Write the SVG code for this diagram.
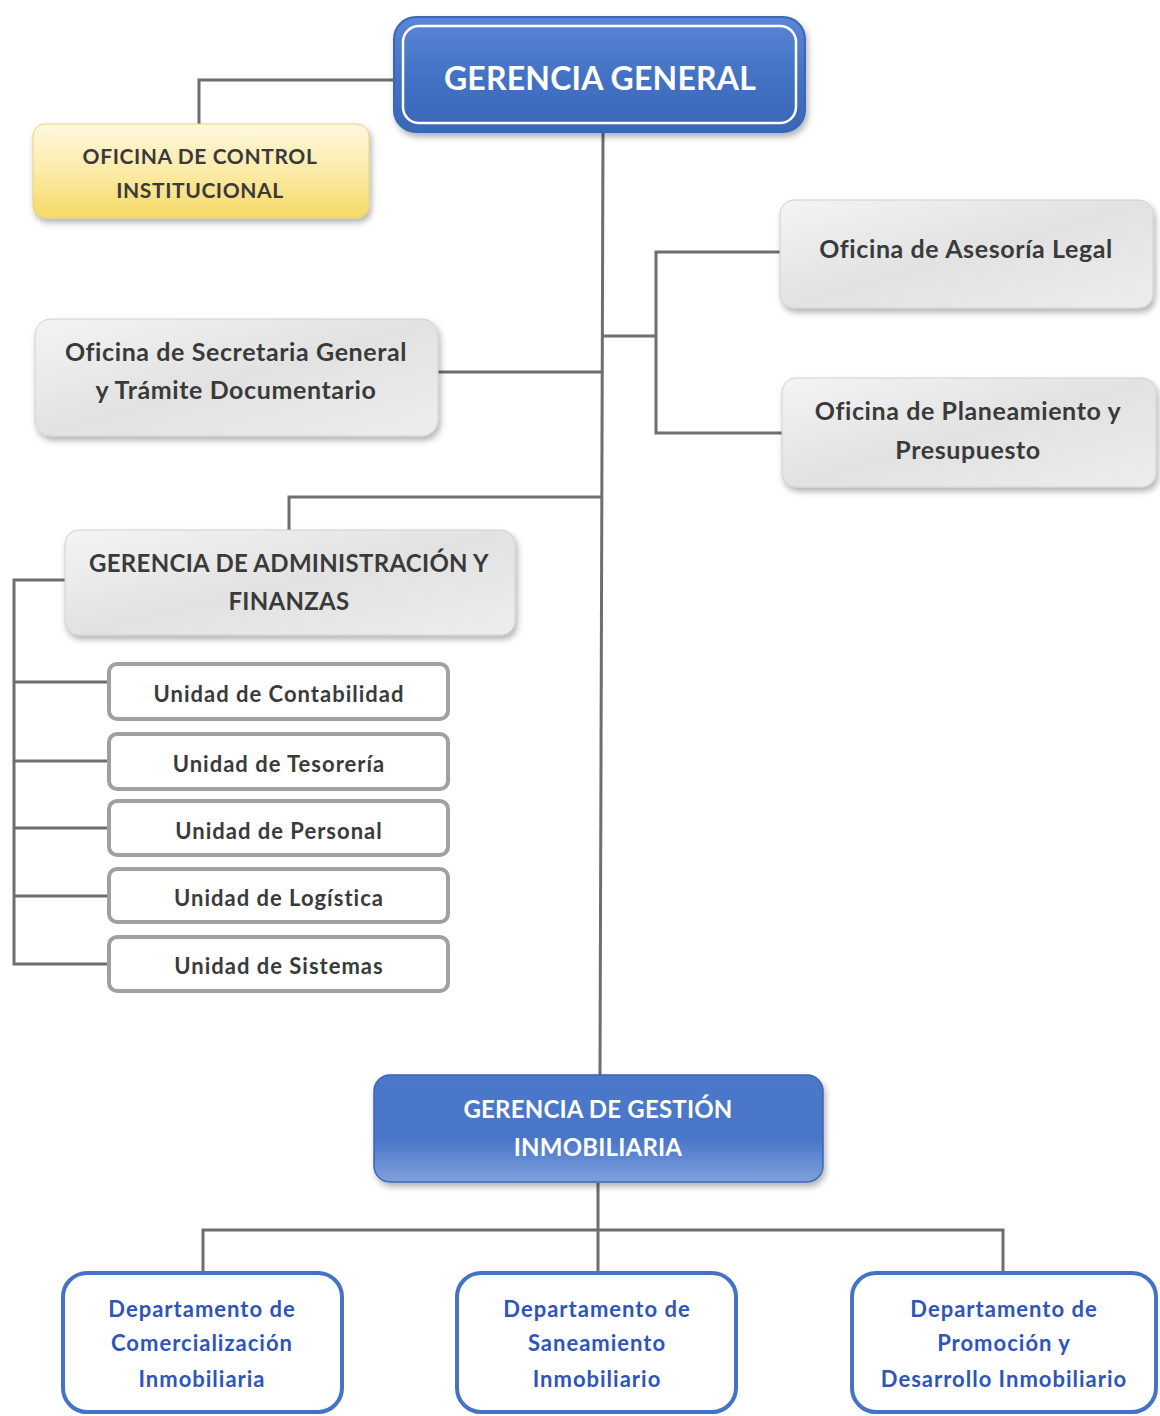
<svg xmlns="http://www.w3.org/2000/svg" width="1160" height="1416" viewBox="0 0 1160 1416">
<defs>
  <linearGradient id="gBlue" x1="0" y1="0" x2="0" y2="1">
    <stop offset="0" stop-color="#5B86D6"/>
    <stop offset="0.5" stop-color="#4472C4"/>
    <stop offset="1" stop-color="#3A66B8"/>
  </linearGradient>
  <linearGradient id="gGGI" x1="0" y1="0" x2="0" y2="1">
    <stop offset="0" stop-color="#4C78CA"/>
    <stop offset="0.6" stop-color="#4A76C8"/>
    <stop offset="1" stop-color="#7FA0DC"/>
  </linearGradient>
  <linearGradient id="gYellow" x1="0" y1="0" x2="0" y2="1">
    <stop offset="0" stop-color="#FFF8DE"/>
    <stop offset="0.5" stop-color="#FCEBA8"/>
    <stop offset="1" stop-color="#F6D966"/>
  </linearGradient>
  <linearGradient id="gGray" x1="0" y1="0" x2="1" y2="1">
    <stop offset="0" stop-color="#F4F4F4"/>
    <stop offset="0.5" stop-color="#E2E2E2"/>
    <stop offset="1" stop-color="#EDEDED"/>
  </linearGradient>
  <filter id="sh" x="-10%" y="-10%" width="125%" height="135%">
    <feDropShadow dx="2" dy="4" stdDeviation="3" flood-color="#000" flood-opacity="0.3"/>
  </filter>
  <style>
    .ln { fill: none; stroke: #6E6E6E; stroke-width: 3; }
    .t { font-family: Lato, "Open Sans", "Liberation Sans", sans-serif; font-weight: bold; text-anchor: middle; }
    .dark { fill: #3A3A3A; }
    .white { fill: #FFFFFF; }
    .blue { fill: #2E55B8; }
    .gray { fill: url(#gGray); stroke: #D0D0D0; stroke-width: 1; filter: url(#sh); }
    .unit { fill: #FFFFFF; stroke: #A0A0A0; stroke-width: 4; }
    .dept { fill: #FFFFFF; stroke: #4472C4; stroke-width: 4; }
    .u { font-size: 22px; letter-spacing: 1px; }
    .d { font-size: 22px; letter-spacing: 1px; }
    .g { font-size: 25px; letter-spacing: 0.6px; }
  </style>
</defs>
<rect width="1160" height="1416" fill="#FFFFFF"/>

<g id="connectors">
  <polyline class="ln" points="393,80 199,80 199,124"/>
  <line class="ln" x1="603" y1="133" x2="600" y2="1075"/>
  <polyline class="ln" points="603,336 656,336"/>
  <polyline class="ln" points="780,252 656,252 656,433 782,433"/>
  <line class="ln" x1="438" y1="372" x2="603" y2="372"/>
  <polyline class="ln" points="602,497 289,497 289,530"/>
  <polyline class="ln" points="65,580 14,580 14,964 108,964"/>
  <line class="ln" x1="14" y1="682" x2="108" y2="682"/>
  <line class="ln" x1="14" y1="761" x2="108" y2="761"/>
  <line class="ln" x1="14" y1="828" x2="108" y2="828"/>
  <line class="ln" x1="14" y1="896" x2="108" y2="896"/>
  <line class="ln" x1="598" y1="1183" x2="598" y2="1272"/>
  <polyline class="ln" points="203,1272 203,1230 1003,1230 1003,1272"/>
</g>

<g id="gerencia-general">
  <rect x="394" y="17" width="411" height="115" rx="22" fill="url(#gBlue)" stroke="#3A66B8" stroke-width="2" filter="url(#sh)"/>
  <rect x="403" y="26" width="393" height="97" rx="16" fill="none" stroke="#FFFFFF" stroke-width="2.5"/>
  <text class="t white" x="600" y="90" font-size="32" letter-spacing="0.2">GERENCIA GENERAL</text>
</g>

<g id="oficina-control">
  <rect x="33" y="124" width="336" height="94" rx="12" fill="url(#gYellow)" stroke="#E8CF7A" stroke-width="1" filter="url(#sh)"/>
  <text class="t dark" font-size="21" letter-spacing="0.6"><tspan x="200" y="164">OFICINA DE CONTROL</tspan><tspan x="200" y="198">INSTITUCIONAL</tspan></text>
</g>

<g id="asesoria-legal">
  <rect class="gray" x="780" y="200" width="373" height="108" rx="14"/>
  <text class="t dark g" x="966" y="258">Oficina de Asesoría Legal</text>
</g>

<g id="planeamiento">
  <rect class="gray" x="782" y="378" width="374" height="109" rx="14"/>
  <text class="t dark g"><tspan x="968" y="420">Oficina de Planeamiento y</tspan><tspan x="968" y="459">Presupuesto</tspan></text>
</g>

<g id="secretaria">
  <rect class="gray" x="35" y="319" width="403" height="117" rx="16"/>
  <text class="t dark g"><tspan x="236" y="361">Oficina de Secretaria General</tspan><tspan x="236" y="399">y Trámite Documentario</tspan></text>
</g>

<g id="gerencia-admin">
  <rect class="gray" x="65" y="530" width="450" height="105" rx="14"/>
  <text class="t dark" font-size="24" letter-spacing="0.3"><tspan x="289" y="572">GERENCIA DE ADMINISTRACIÓN Y</tspan><tspan x="289" y="610">FINANZAS</tspan></text>
</g>

<g id="unidad-contabilidad">
  <rect class="unit" x="109" y="664" width="339" height="55" rx="8"/>
  <text class="t dark u" x="279" y="702">Unidad de Contabilidad</text>
</g>
<g id="unidad-tesoreria">
  <rect class="unit" x="109" y="734" width="339" height="55" rx="8"/>
  <text class="t dark u" x="279" y="772">Unidad de Tesorería</text>
</g>
<g id="unidad-personal">
  <rect class="unit" x="109" y="801" width="339" height="54" rx="8"/>
  <text class="t dark u" x="279" y="839">Unidad de Personal</text>
</g>
<g id="unidad-logistica">
  <rect class="unit" x="109" y="869" width="339" height="53" rx="8"/>
  <text class="t dark u" x="279" y="906">Unidad de Logística</text>
</g>
<g id="unidad-sistemas">
  <rect class="unit" x="109" y="937" width="339" height="54" rx="8"/>
  <text class="t dark u" x="279" y="974">Unidad de Sistemas</text>
</g>

<g id="gerencia-gestion">
  <rect x="374" y="1075" width="449" height="107" rx="16" fill="url(#gGGI)" stroke="#3A66B8" stroke-width="1.5" filter="url(#sh)"/>
  <text class="t white" font-size="24" letter-spacing="0.2"><tspan x="598" y="1118">GERENCIA DE GESTIÓN</tspan><tspan x="598" y="1156">INMOBILIARIA</tspan></text>
</g>

<g id="dept-comercializacion">
  <rect class="dept" x="63" y="1273" width="279" height="139" rx="24"/>
  <text class="t blue d"><tspan x="202" y="1317">Departamento de</tspan><tspan x="202" y="1351">Comercialización</tspan><tspan x="202" y="1387">Inmobiliaria</tspan></text>
</g>
<g id="dept-saneamiento">
  <rect class="dept" x="457" y="1273" width="279" height="139" rx="24"/>
  <text class="t blue d"><tspan x="597" y="1317">Departamento de</tspan><tspan x="597" y="1351">Saneamiento</tspan><tspan x="597" y="1387">Inmobiliario</tspan></text>
</g>
<g id="dept-promocion">
  <rect class="dept" x="852" y="1273" width="304" height="139" rx="24"/>
  <text class="t blue d"><tspan x="1004" y="1317">Departamento de</tspan><tspan x="1004" y="1351">Promoción y</tspan><tspan x="1004" y="1387">Desarrollo Inmobiliario</tspan></text>
</g>
</svg>
